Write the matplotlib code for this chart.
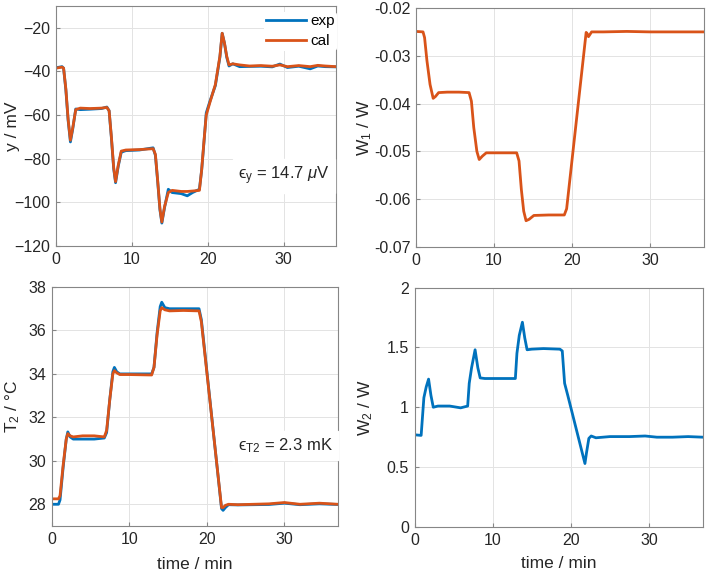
import numpy as np
import matplotlib
matplotlib.use("Agg")
import matplotlib.pyplot as plt

plt.rcParams['font.family'] = ['Liberation Sans', 'DejaVu Sans']
plt.rcParams['mathtext.fontset'] = 'custom'
plt.rcParams['mathtext.rm'] = 'Liberation Sans'
plt.rcParams['mathtext.it'] = 'Liberation Sans:italic'

BLUE = '#0072BD'
ORANGE = '#D95319'

# --- y / mV (top left) ---
t_y = [0, 0.8, 1.0, 1.3, 1.6, 1.9, 2.2, 2.6, 3.2, 4.5, 6.0, 6.7, 7.0, 7.3, 7.6, 7.85, 8.2, 8.6, 9.2,
       11, 12.8, 13.1, 13.4, 13.7, 13.95, 14.3, 14.8, 15.3, 16.5, 17.3, 18, 18.9, 19.2, 19.5, 19.8, 20.3,
       21.0, 21.6, 21.9, 22.2, 22.5, 22.8, 23.3, 24.2, 25.5, 27, 28.5, 29.5, 30.5, 32, 33.5, 34.5, 35.5, 36.9]
y_cal = [-38.5, -38, -38.5, -48, -62, -71.5, -66, -57.5, -56.8, -57, -56.8, -56.5, -58, -70, -84, -90.5,
         -83, -76.5, -76, -75.8, -75.4, -78, -90, -103, -109, -102, -95.5, -94.5, -95, -95, -94.8, -94.5,
         -85, -72, -60, -54, -46, -33, -22.5, -27, -33, -37, -36.5, -37, -37.5, -37.3, -37.6, -37, -37.8,
         -37.3, -37.8, -37.2, -37.5, -37.8]
y_exp = [-38.3, -37.8, -38.5, -48.5, -62.5, -72.3, -66.5, -57.2, -57.5, -57.3, -57, -56.3, -58, -70.5,
         -84.5, -91, -83.5, -77, -76.3, -76, -75, -78.5, -90.5, -103.5, -109.5, -102.5, -94, -95.5, -96,
         -97, -95.5, -94, -85, -72.5, -59, -53.5, -46.5, -33.5, -22.5, -27, -33.5, -37.5, -36.5, -37.8,
         -37.7, -37.6, -37.9, -36.6, -38.2, -37.6, -38.8, -37.5, -37.8, -37.9]

# --- W1 / W (top right) ---
t_w1 = [0, 0.9, 1.1, 1.4, 1.8, 2.2, 2.5, 2.9, 4, 5.5, 6.8, 7.1, 7.4, 7.8, 8.1, 8.5, 9.0, 11, 12.9,
        13.2, 13.5, 13.8, 14.1, 14.5, 15.1, 17, 19.0, 19.3, 21.8, 21.95, 22.1, 22.5, 24, 27, 30, 33, 36.9]
w1 = [-0.0249, -0.025, -0.0262, -0.031, -0.036, -0.0389, -0.0385, -0.0377, -0.0376, -0.0376, -0.0377,
      -0.0395, -0.045, -0.050, -0.0517, -0.0510, -0.0503, -0.0503, -0.0503, -0.052, -0.058, -0.0625,
      -0.0645, -0.0642, -0.0634, -0.0633, -0.0633, -0.062, -0.0251, -0.0254, -0.0260, -0.0250, -0.0250,
      -0.0249, -0.0250, -0.0250, -0.0250]

# --- T2 / degC (bottom left) ---
t_T = [0, 0.9, 1.1, 1.5, 1.9, 2.1, 2.4, 2.8, 4, 5.5, 6.8, 7.1, 7.5, 7.9, 8.1, 8.4, 8.8, 10, 12.9,
       13.2, 13.6, 14.0, 14.2, 14.6, 15.2, 17, 19.0, 19.3, 21.9, 22.1, 22.4, 22.8, 24, 26, 28, 30, 32,
       34.5, 36.9]
T_cal = [28.25, 28.25, 28.4, 29.8, 31.0, 31.25, 31.15, 31.1, 31.15, 31.15, 31.1, 31.4, 32.8, 34.0,
         34.15, 34.05, 33.97, 33.97, 33.95, 34.3, 35.8, 36.9, 37.05, 36.95, 36.9, 36.92, 36.9, 36.4,
         27.85, 27.85, 27.95, 28.0, 27.98, 28.0, 28.02, 28.08, 28.0, 28.05, 28.0]
T_exp = [28.0, 28.0, 28.2, 29.7, 31.0, 31.33, 31.1, 31.0, 31.0, 31.0, 31.05, 31.3, 32.8, 34.1, 34.3,
         34.1, 34.0, 34.0, 34.0, 34.3, 35.9, 37.1, 37.3, 37.05, 37.0, 37.0, 37.0, 36.5, 27.8, 27.72,
         27.85, 27.98, 27.97, 27.98, 27.99, 28.05, 27.98, 28.02, 27.99]

# --- W2 / W (bottom right) ---
t_w2 = [0, 0.85, 1.0, 1.2, 1.5, 1.8, 2.1, 2.4, 3, 4.5, 5.9, 6.5, 6.8, 7.0, 7.3, 7.75, 8.1, 8.4, 9, 11,
        12.9, 13.1, 13.4, 13.8, 14.1, 14.4, 15, 16.5, 18.6, 18.9, 19.2, 19.6, 21.8, 22.0, 22.3, 22.6,
        23.2, 25, 27.5, 29.5, 31, 33, 35, 36.9]
w2 = [0.77, 0.765, 0.9, 1.08, 1.17, 1.235, 1.1, 1.0, 1.01, 1.01, 0.995, 1.005, 1.01, 1.2, 1.33, 1.48,
      1.33, 1.245, 1.24, 1.24, 1.24, 1.45, 1.6, 1.71, 1.58, 1.48, 1.485, 1.49, 1.485, 1.47, 1.2, 1.1,
      0.53, 0.62, 0.74, 0.76, 0.745, 0.755, 0.755, 0.76, 0.75, 0.75, 0.755, 0.75]

XMAX = 36.9
W, H = 708, 577
TXT = '#262626'

def make_ax(fig, x0, x1, top, bottom):
    ax = fig.add_axes([x0 / W, (H - bottom) / H, (x1 - x0) / W, (bottom - top) / H])
    ax.grid(True, color='#e3e3e3', linewidth=0.7)
    ax.set_axisbelow(True)
    for s in ax.spines.values():
        s.set_color('#868686')
        s.set_linewidth(0.8)
    ax.tick_params(direction='in', length=3, color='#868686', labelcolor=TXT, labelsize=11.5, pad=4)
    ax.set_xlim(0, XMAX)
    ax.set_xticks([0, 10, 20, 30])
    return ax

fig = plt.figure(figsize=(W / 100, H / 100), dpi=100)

ax1 = make_ax(fig, 56, 336, 6, 246)
ax1.plot(t_y, y_exp, color=BLUE, lw=2, label='exp')
ax1.plot(t_y, y_cal, color=ORANGE, lw=2, label='cal')
ax1.set_ylim(-120, -10)
ax1.set_yticks([-120, -100, -80, -60, -40, -20])
ax1.set_ylabel('y / mV', fontsize=12.5, color=TXT)
ax1.yaxis.set_label_coords(-0.129, 0.5)
ax1.text(36.1, -88, r'ϵ$_{\rm y}$ = 14.7 $\mu$V', ha='right', va='center', fontsize=12,
         color=TXT, backgroundcolor='white')
leg = ax1.legend(loc='upper right', bbox_to_anchor=(1.005, 0.975), fontsize=11, frameon=True,
                 handlelength=2.6, handletextpad=0.3, labelspacing=0.4, borderaxespad=0, borderpad=0.15)
leg.get_frame().set_edgecolor('none')
leg.get_frame().set_facecolor('white')
leg.get_frame().set_alpha(1)

ax2 = make_ax(fig, 416, 704, 8, 247)
ax2.plot(t_w1, w1, color=ORANGE, lw=2)
ax2.set_ylim(-0.07, -0.02)
ax2.set_yticks([-0.07, -0.06, -0.05, -0.04, -0.03, -0.02])
ax2.set_yticklabels(['-0.07', '-0.06', '-0.05', '-0.04', '-0.03', '-0.02'])
ax2.set_ylabel(r'W$_{\rm 1}$ / W', fontsize=12.5, color=TXT)
ax2.yaxis.set_label_coords(-0.146, 0.5)

ax3 = make_ax(fig, 51.5, 338, 287, 526)
ax3.plot(t_T, T_exp, color=BLUE, lw=2)
ax3.plot(t_T, T_cal, color=ORANGE, lw=2)
ax3.set_ylim(27, 38)
ax3.set_yticks([28, 30, 32, 34, 36, 38])
ax3.set_ylabel(r'T$_{\rm 2}$ / °C', fontsize=12.5, color=TXT)
ax3.yaxis.set_label_coords(-0.103, 0.5)
ax3.set_xlabel('time / min', fontsize=12.5, color=TXT)
ax3.xaxis.set_label_coords(0.5, -0.13)
ax3.text(36.2, 30.7, r'ϵ$_{\rm T2}$ = 2.3 mK', ha='right', va='center', fontsize=12,
         color=TXT, backgroundcolor='white')

ax4 = make_ax(fig, 414.5, 703, 287.5, 527)
ax4.plot(t_w2, w2, color=BLUE, lw=2)
ax4.set_ylim(0, 2)
ax4.set_yticks([0, 0.5, 1, 1.5, 2])
ax4.set_yticklabels(['0', '0.5', '1', '1.5', '2'])
ax4.set_ylabel(r'W$_{\rm 2}$ / W', fontsize=12.5, color=TXT)
ax4.yaxis.set_label_coords(-0.137, 0.5)
ax4.set_xlabel('time / min', fontsize=12.5, color=TXT)
ax4.xaxis.set_label_coords(0.5, -0.12)

fig.savefig('out.png', dpi=100)
